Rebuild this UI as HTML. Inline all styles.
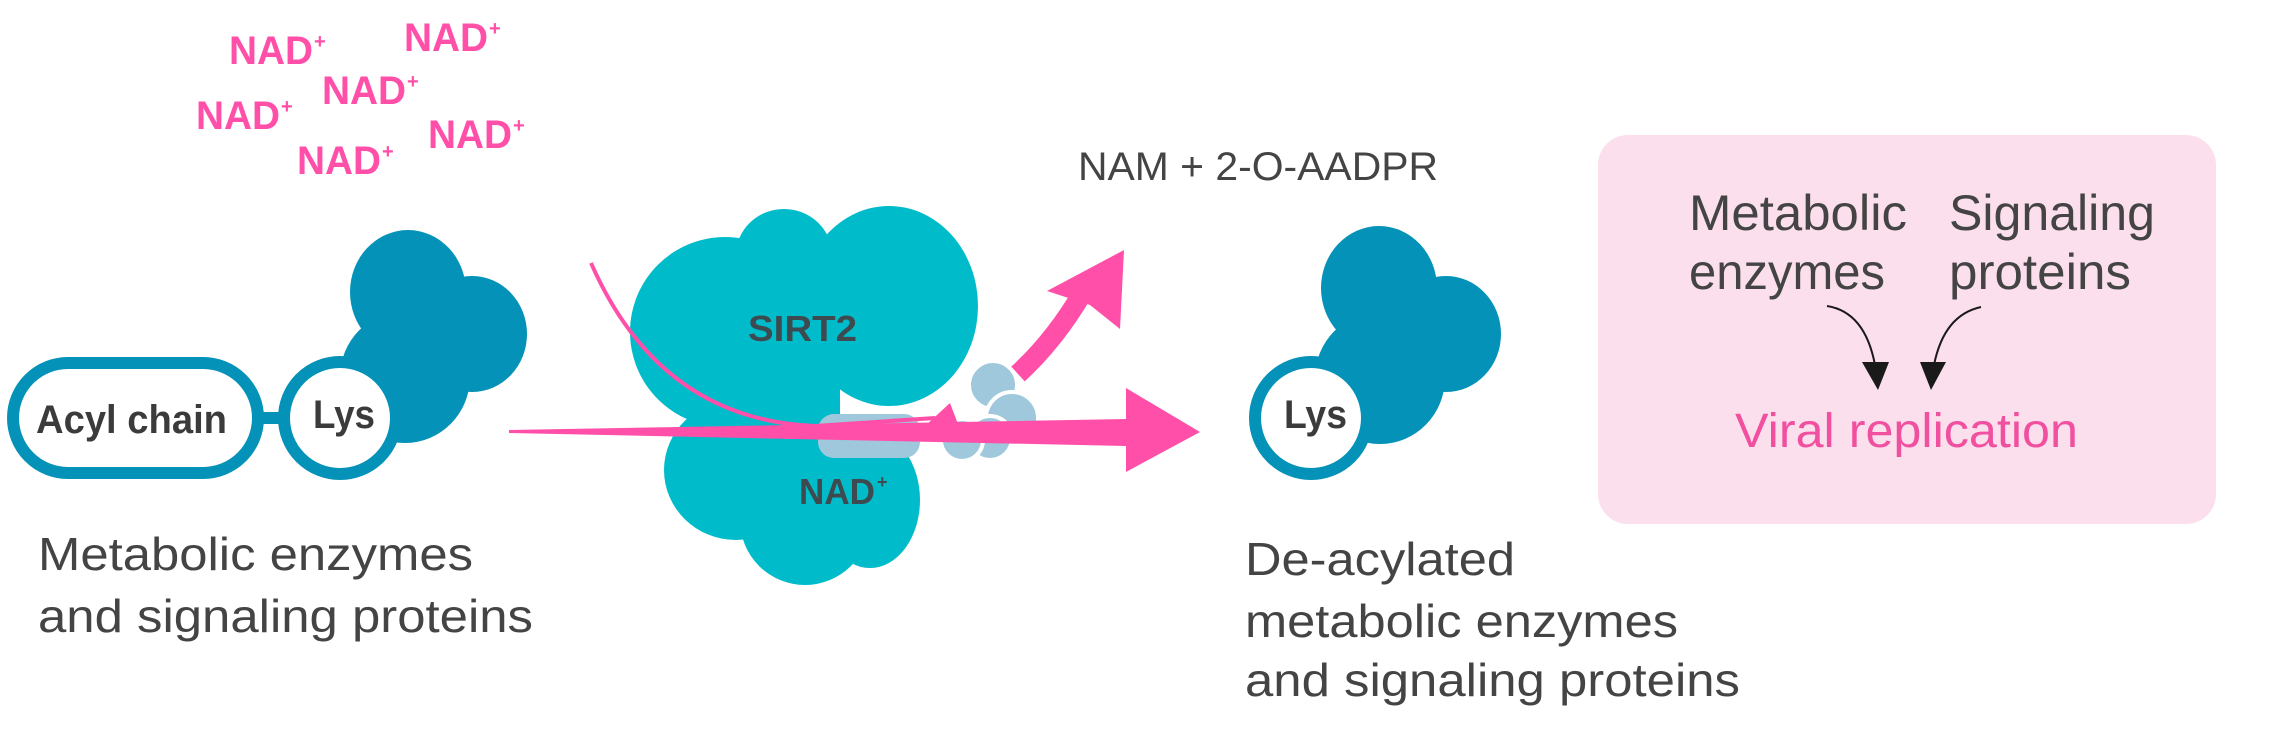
<!DOCTYPE html>
<html><head><meta charset="utf-8"><style>html,body{margin:0;padding:0;background:#fff;width:2277px;height:742px;overflow:hidden}svg{display:block}</style></head>
<body>
<svg width="2277" height="742" viewBox="0 0 2277 742" xmlns="http://www.w3.org/2000/svg" font-family="Liberation Sans, Arial, sans-serif">
<!-- NAD+ pink labels -->
<g fill="#ff4fa8" font-weight="bold" font-size="40">
<text x="229" y="64" textLength="84" lengthAdjust="spacingAndGlyphs">NAD</text><text x="314" y="48" font-size="20">+</text>
<text x="404" y="51" textLength="84" lengthAdjust="spacingAndGlyphs">NAD</text><text x="489" y="35" font-size="20">+</text>
<text x="322" y="104" textLength="84" lengthAdjust="spacingAndGlyphs">NAD</text><text x="407" y="88" font-size="20">+</text>
<text x="196" y="129" textLength="84" lengthAdjust="spacingAndGlyphs">NAD</text><text x="281" y="113" font-size="20">+</text>
<text x="428" y="148" textLength="84" lengthAdjust="spacingAndGlyphs">NAD</text><text x="513" y="132" font-size="20">+</text>
<text x="297" y="174" textLength="84" lengthAdjust="spacingAndGlyphs">NAD</text><text x="382" y="158" font-size="20">+</text>
</g>
<!-- left protein -->
<g fill="#0592b8">
<ellipse cx="408" cy="292" rx="58" ry="62"/>
<ellipse cx="472" cy="334" rx="55" ry="58"/>
<ellipse cx="405" cy="377" rx="65" ry="66"/>
</g>
<rect x="13" y="363" width="245" height="110" rx="55" fill="#fff" stroke="#0592b8" stroke-width="12"/>
<rect x="256" y="412" width="30" height="12" fill="#0592b8"/>
<circle cx="340" cy="418" r="56" fill="#fff" stroke="#0592b8" stroke-width="12"/>
<text x="36" y="433" font-size="40" font-weight="bold" fill="#3b3b3b" textLength="191" lengthAdjust="spacingAndGlyphs">Acyl chain</text>
<text x="313" y="428" font-size="40" font-weight="bold" fill="#3b3b3b" textLength="62" lengthAdjust="spacingAndGlyphs">Lys</text>
<g fill="#444" font-size="46">
<text x="38" y="570" textLength="435" lengthAdjust="spacingAndGlyphs">Metabolic enzymes</text>
<text x="38" y="632" textLength="495" lengthAdjust="spacingAndGlyphs">and signaling proteins</text>
</g>
<!-- SIRT2 -->
<g fill="#00bccb">
<circle cx="725" cy="332" r="95"/>
<ellipse cx="784" cy="255" rx="48" ry="46"/>
<ellipse cx="889" cy="306" rx="89" ry="100"/>
<ellipse cx="736" cy="470" rx="72" ry="70"/>
<circle cx="805" cy="520" r="65"/>
<ellipse cx="870" cy="500" rx="50" ry="68"/>
<rect x="700" y="360" width="140" height="120"/>
</g>
<g fill="#a0c8dc" stroke="#fff" stroke-width="4">
<circle cx="993" cy="385" r="24"/>
<circle cx="1012" cy="418" r="26"/>
<circle cx="990" cy="438" r="22"/>
<circle cx="962" cy="440" r="21"/>
</g>
<rect x="818" y="414" width="102" height="44" rx="16" fill="#a0c8dc"/>
<text x="748" y="341" font-size="36" font-weight="bold" fill="#3d4a4f" textLength="109" lengthAdjust="spacingAndGlyphs">SIRT2</text>
<text x="799" y="504" font-size="36" font-weight="bold" fill="#3d4a4f" textLength="76" lengthAdjust="spacingAndGlyphs">NAD</text><text x="877" y="488" font-size="18" font-weight="bold" fill="#3d4a4f">+</text>
<!-- pink arrows -->
<path d="M591,263 Q660,420 815,426 L935,418" fill="none" stroke="#ff4fa8" stroke-width="4"/>
<polygon points="950,403 958,424 925,426" fill="#ff4fa8"/>
<path d="M1018,374 Q1055,340 1083,292" fill="none" stroke="#ff4fa8" stroke-width="20"/>
<polygon points="1124,250 1120,329 1090,305 1047,291" fill="#ff4fa8"/>
<polygon points="509,430 1126,419 1126,388 1200,432 1126,472 1126,446 509,433" fill="#ff4fa8"/>
<text x="1078" y="180" font-size="40" fill="#444" textLength="360" lengthAdjust="spacingAndGlyphs">NAM + 2-O-AADPR</text>
<!-- right protein -->
<g fill="#0592b8">
<ellipse cx="1379" cy="288" rx="58" ry="62"/>
<ellipse cx="1446" cy="334" rx="55" ry="58"/>
<ellipse cx="1380" cy="378" rx="65" ry="66"/>
</g>
<circle cx="1311" cy="418" r="56" fill="#fff" stroke="#0592b8" stroke-width="12"/>
<text x="1284" y="428" font-size="40" font-weight="bold" fill="#3b3b3b" textLength="63" lengthAdjust="spacingAndGlyphs">Lys</text>
<g fill="#444" font-size="46">
<text x="1245" y="575" textLength="270" lengthAdjust="spacingAndGlyphs">De-acylated</text>
<text x="1245" y="637" textLength="433" lengthAdjust="spacingAndGlyphs">metabolic enzymes</text>
<text x="1245" y="696" textLength="495" lengthAdjust="spacingAndGlyphs">and signaling proteins</text>
</g>
<!-- pink box -->
<rect x="1598" y="135" width="618" height="389" rx="30" fill="#fcdfec"/>
<g fill="#444" font-size="50">
<text x="1689" y="230" textLength="218" lengthAdjust="spacingAndGlyphs">Metabolic</text>
<text x="1689" y="289" textLength="196" lengthAdjust="spacingAndGlyphs">enzymes</text>
<text x="1949" y="230" textLength="206" lengthAdjust="spacingAndGlyphs">Signaling</text>
<text x="1949" y="289" textLength="182" lengthAdjust="spacingAndGlyphs">proteins</text>
</g>
<text x="1735" y="447" font-size="48" fill="#f0509f" textLength="343" lengthAdjust="spacingAndGlyphs">Viral replication</text>
<path d="M1827,306 Q1865,312 1875,365" fill="none" stroke="#1a1a1a" stroke-width="2"/>
<polygon points="1862,362 1889,362 1878,390" fill="#1a1a1a"/>
<path d="M1981,307 Q1944,315 1934,365" fill="none" stroke="#1a1a1a" stroke-width="2"/>
<polygon points="1920,362 1946,362 1931,390" fill="#1a1a1a"/>
</svg>
</body></html>
